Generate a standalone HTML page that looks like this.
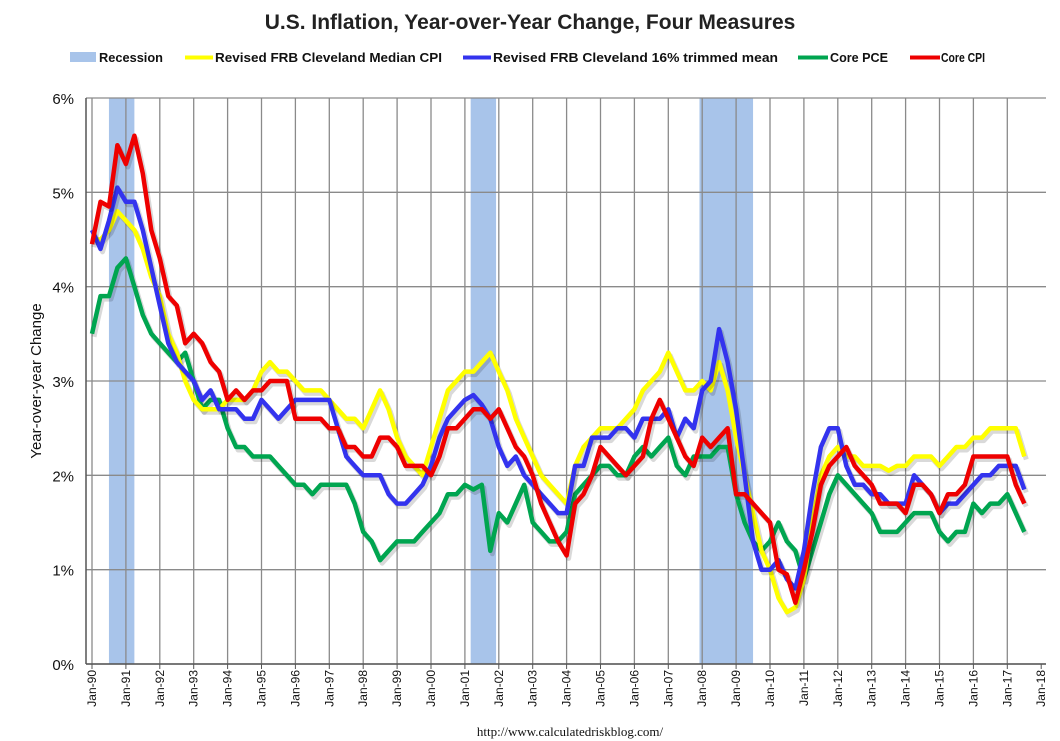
<!DOCTYPE html>
<html><head><meta charset="utf-8">
<style>
body{margin:0;background:#fff;}
svg{display:block;font-family:"Liberation Sans",sans-serif;}
</style></head>
<body>
<svg id="chart" width="1060" height="741" viewBox="0 0 1060 741" xmlns="http://www.w3.org/2000/svg">
<text x="530" y="29" text-anchor="middle" font-size="21" font-weight="bold" fill="#222">U.S. Inflation, Year-over-Year Change, Four Measures</text>
<g font-size="13" font-weight="bold" fill="#111">
 <g><rect x="70" y="52" width="26" height="10" fill="#a8c4ea"/><text x="99" y="62" textLength="64" lengthAdjust="spacingAndGlyphs">Recession</text></g>
 <g><line x1="185" y1="57.5" x2="213" y2="57.5" stroke="#ffff00" stroke-width="4"/><text x="215" y="62" textLength="227" lengthAdjust="spacingAndGlyphs">Revised FRB Cleveland Median CPI</text></g>
 <g><line x1="463" y1="57.5" x2="491" y2="57.5" stroke="#3333ee" stroke-width="4"/><text x="493" y="62" textLength="285" lengthAdjust="spacingAndGlyphs">Revised FRB Cleveland 16% trimmed mean</text></g>
 <g><line x1="798" y1="57.5" x2="828" y2="57.5" stroke="#00a550" stroke-width="4"/><text x="830" y="62" textLength="58" lengthAdjust="spacingAndGlyphs">Core PCE</text></g>
 <g><line x1="910" y1="57.5" x2="940" y2="57.5" stroke="#ee0000" stroke-width="4"/><text x="941" y="62" textLength="44" lengthAdjust="spacingAndGlyphs">Core CPI</text></g>
</g>
<g id="recessions"></g>
<g id="grid"></g>
<g id="series"></g>
<g id="axes"></g>
<text transform="translate(41,381) rotate(-90)" text-anchor="middle" font-size="15" fill="#111">Year-over-year Change</text>
<text x="570" y="736" text-anchor="middle" font-size="13" fill="#111" font-family="Liberation Serif, serif">http://www.calculatedriskblog.com/</text>
</svg>
<script>
const startYear = 1990;
const step = 0.25;
const yTicks = [0,1,2,3,4,5,6];
const yTickLabels = ["0%","1%","2%","3%","4%","5%","6%"];
const xYears = [90,91,92,93,94,95,96,97,98,99,0,1,2,3,4,5,6,7,8,9,10,11,12,13,14,15,16,17,18];
const recessionStarts = [1990.5, 2001.17, 2007.92];
const recessionEnds = [1991.25, 2001.92, 2009.5];
const medianCPI = [4.5,4.5,4.6,4.8, 4.7,4.6,4.4,4.1, 3.9,3.5,3.3,3.0, 2.8,2.7,2.7,2.7, 2.8,2.8,2.8,2.9, 3.1,3.2,3.1,3.1, 3.0,2.9,2.9,2.9, 2.8,2.7,2.6,2.6, 2.5,2.7,2.9,2.7, 2.4,2.2,2.1,2.0, 2.3,2.6,2.9,3.0, 3.1,3.1,3.2,3.3, 3.1,2.9,2.6,2.4, 2.2,2.0,1.9,1.8, 1.7,2.1,2.3,2.4, 2.5,2.5,2.5,2.6, 2.7,2.9,3.0,3.1, 3.3,3.1,2.9,2.9, 3.0,2.9,3.2,2.9, 2.4,2.0,1.6,1.2, 1.0,0.7,0.55,0.6, 0.9,1.5,2.0,2.2, 2.3,2.2,2.2,2.1, 2.1,2.1,2.05,2.1, 2.1,2.2,2.2,2.2, 2.1,2.2,2.3,2.3, 2.4,2.4,2.5,2.5, 2.5,2.5,2.2];
const trimmedMean = [4.6,4.4,4.7,5.05, 4.9,4.9,4.6,4.2, 3.8,3.4,3.2,3.1, 3.0,2.8,2.9,2.7, 2.7,2.7,2.6,2.6, 2.8,2.7,2.6,2.7, 2.8,2.8,2.8,2.8, 2.8,2.5,2.2,2.1, 2.0,2.0,2.0,1.8, 1.7,1.7,1.8,1.9, 2.1,2.4,2.6,2.7, 2.8,2.85,2.75,2.6, 2.3,2.1,2.2,2.0, 1.9,1.8,1.7,1.6, 1.6,2.1,2.1,2.4, 2.4,2.4,2.5,2.5, 2.4,2.6,2.6,2.6, 2.7,2.4,2.6,2.5, 2.9,3.0,3.55,3.2, 2.7,2.0,1.3,1.0, 1.0,1.1,0.9,0.8, 1.2,1.8,2.3,2.5, 2.5,2.1,1.9,1.9, 1.8,1.8,1.7,1.7, 1.7,2.0,1.9,1.8, 1.6,1.7,1.7,1.8, 1.9,2.0,2.0,2.1, 2.1,2.1,1.85];
const corePCE = [3.5,3.9,3.9,4.2, 4.3,4.0,3.7,3.5, 3.4,3.3,3.2,3.3, 3.0,2.7,2.8,2.8, 2.5,2.3,2.3,2.2, 2.2,2.2,2.1,2.0, 1.9,1.9,1.8,1.9, 1.9,1.9,1.9,1.7, 1.4,1.3,1.1,1.2, 1.3,1.3,1.3,1.4, 1.5,1.6,1.8,1.8, 1.9,1.85,1.9,1.2, 1.6,1.5,1.7,1.9, 1.5,1.4,1.3,1.3, 1.4,1.8,1.9,2.0, 2.1,2.1,2.0,2.0, 2.2,2.3,2.2,2.3, 2.4,2.1,2.0,2.2, 2.2,2.2,2.3,2.3, 1.8,1.5,1.3,1.2, 1.3,1.5,1.3,1.2, 0.9,1.2,1.5,1.8, 2.0,1.9,1.8,1.7, 1.6,1.4,1.4,1.4, 1.5,1.6,1.6,1.6, 1.4,1.3,1.4,1.4, 1.7,1.6,1.7,1.7, 1.8,1.6,1.4];
const coreCPI = [4.45,4.9,4.85,5.5, 5.3,5.6,5.2,4.6, 4.3,3.9,3.8,3.4, 3.5,3.4,3.2,3.1, 2.8,2.9,2.8,2.9, 2.9,3.0,3.0,3.0, 2.6,2.6,2.6,2.6, 2.5,2.5,2.3,2.3, 2.2,2.2,2.4,2.4, 2.3,2.1,2.1,2.1, 2.0,2.2,2.5,2.5, 2.6,2.7,2.7,2.6, 2.7,2.5,2.3,2.2, 2.0,1.7,1.5,1.3, 1.15,1.7,1.8,2.0, 2.3,2.2,2.1,2.0, 2.1,2.2,2.6,2.8, 2.6,2.4,2.2,2.1, 2.4,2.3,2.4,2.5, 1.8,1.8,1.7,1.6, 1.5,1.0,0.95,0.65, 1.0,1.4,1.9,2.1, 2.2,2.3,2.1,2.0, 1.9,1.7,1.7,1.7, 1.6,1.9,1.9,1.8, 1.6,1.8,1.8,1.9, 2.2,2.2,2.2,2.2, 2.2,1.9,1.7];

const NS = "http://www.w3.org/2000/svg";
const plotL = 86, plotR = 1046, plotT = 98, plotB = 664;
function xScale(yr){ return 92 + (yr - 1990) * 33.9; }
function yScale(v){ return plotB - (v / 6) * (plotB - plotT); }
function mk(tag, attrs, parent){ const e = document.createElementNS(NS, tag); for (const k in attrs) e.setAttribute(k, attrs[k]); parent.appendChild(e); return e; }

const rg = document.getElementById('recessions');
recessionStarts.forEach((s, i) => {
  const r = mk('rect', {x: xScale(s), y: plotT, width: xScale(recessionEnds[i]) - xScale(s), height: plotB - plotT, fill: '#a8c4ea'}, rg);
  
  
});

const gg = document.getElementById('grid');
yTicks.forEach(v => {
  const l = mk('line', {x1: plotL, x2: plotR, y1: yScale(v), y2: yScale(v), stroke: '#8a8a8a', 'stroke-width': 1.3}, gg);
  
  
});
xYears.forEach((y, i) => {
  const x = xScale(1990 + i);
  if (i < xYears.length - 1) {
    const l = mk('line', {x1: x, x2: x, y1: plotT, y2: plotB, stroke: '#8a8a8a', 'stroke-width': 1.3}, gg);
    
    
  }
});

const sg = document.getElementById('series');
const series = [
  {name: 'series-core-pce', data: corePCE, color: '#00a550'},
  {name: 'series-median-cpi', data: medianCPI, color: '#ffff00'},
  {name: 'series-trimmed-mean', data: trimmedMean, color: '#3333ee'},
  {name: 'series-core-cpi', data: coreCPI, color: '#ee0000'}
];
series.forEach(s => {
  const pts = s.data.map((v, i) => xScale(startYear + i * step).toFixed(1) + ',' + yScale(v).toFixed(1)).join(' ');
  const sh = mk('polyline', {points: pts, fill: 'none', stroke: '#000', 'stroke-opacity': 0.15, 'stroke-width': 5, 'stroke-linejoin': 'round', transform: 'translate(2,3)'}, sg);
  
  
  const p = mk('polyline', {points: pts, fill: 'none', stroke: s.color, 'stroke-width': 4.5, 'stroke-linejoin': 'round'}, sg);
  
  
});

const ag = document.getElementById('axes');
const ax = mk('line', {x1: plotL, x2: plotL, y1: plotT, y2: plotB, stroke: '#555', 'stroke-width': 1.5}, ag);


const bx = mk('line', {x1: plotL, x2: plotR, y1: plotB, y2: plotB, stroke: '#555', 'stroke-width': 1.5}, ag);


yTicks.forEach((v, i) => {
  const t = mk('text', {x: 74, y: yScale(v) + 6, 'text-anchor': 'end', 'font-size': 15, fill: '#111'}, ag);
  t.textContent = yTickLabels[i];
  
  
});
xYears.forEach((y, i) => {
  const x = xScale(1990 + i);
  const tk = mk('line', {x1: x, x2: x, y1: plotB, y2: plotB + 5, stroke: '#555'}, ag);
  
  
  const t = mk('text', {transform: 'translate(' + (x + 4) + ',' + (plotB + 6) + ') rotate(-90)', 'text-anchor': 'end', 'font-size': 12, fill: '#111'}, ag);
  t.textContent = 'Jan-' + String(y).padStart(2, '0');
  
  
});
</script>
</body></html>
